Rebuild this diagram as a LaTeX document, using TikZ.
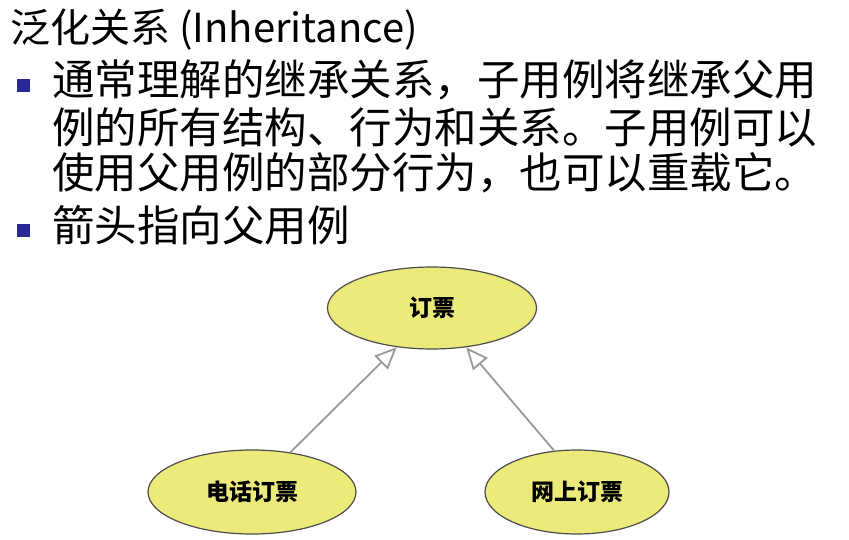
\documentclass[tikz,border=0pt]{standalone}
\usepackage{fontspec}
\setmainfont{Noto Sans CJK SC}
\usetikzlibrary{shapes.geometric,arrows.meta}
\definecolor{casefill}{RGB}{236,234,122}
\definecolor{bulletblue}{RGB}{40,40,150}
\begin{document}
\begin{tikzpicture}[x=1pt,y=-1pt,
  case node/.style={ellipse, draw=black!70, fill=casefill, line width=1.2pt,
    font=\fontsize{23}{26}\selectfont\bfseries},
  line node/.style={anchor=west, inner sep=0pt, font=\fontsize{42.5}{46}\selectfont},
  bullet/.style={fill=bulletblue, minimum size=13pt, inner sep=0pt},
  gen/.style={draw=gray!80, line width=1.8pt, -{Triangle[open,length=22pt,width=19pt,fill=white]}}
  ]
  \useasboundingbox (0,0) rectangle (849,540);

  \node [line node, font=\fontsize{40}{44}\selectfont] (title) at (10,30) {泛化关系 (Inheritance)};
  \node [bullet] (b1) at (23,86) {};
  \node [line node] (l1) at (52,80) {通常理解的继承关系，子用例将继承父用};
  \node [line node] (l2) at (52,127) {例的所有结构、行为和关系。子用例可以};
  \node [line node] (l3) at (52,173) {使用父用例的部分行为，也可以重载它。};
  \node [bullet] (b2) at (23,231) {};
  \node [line node] (l4) at (52,225) {箭头指向父用例};

  \node [case node, minimum width=209pt, minimum height=82pt] (order) at (432,308) {订票};
  \node [case node, minimum width=208pt, minimum height=84pt] (phone) at (252,492) {电话订票};
  \node [case node, minimum width=184pt, minimum height=84pt] (web) at (577,492) {网上订票};

  \draw [gen] (phone.46) -- (order.228);
  \draw [gen] (web.119) -- (order.311);
\end{tikzpicture}
\end{document}
